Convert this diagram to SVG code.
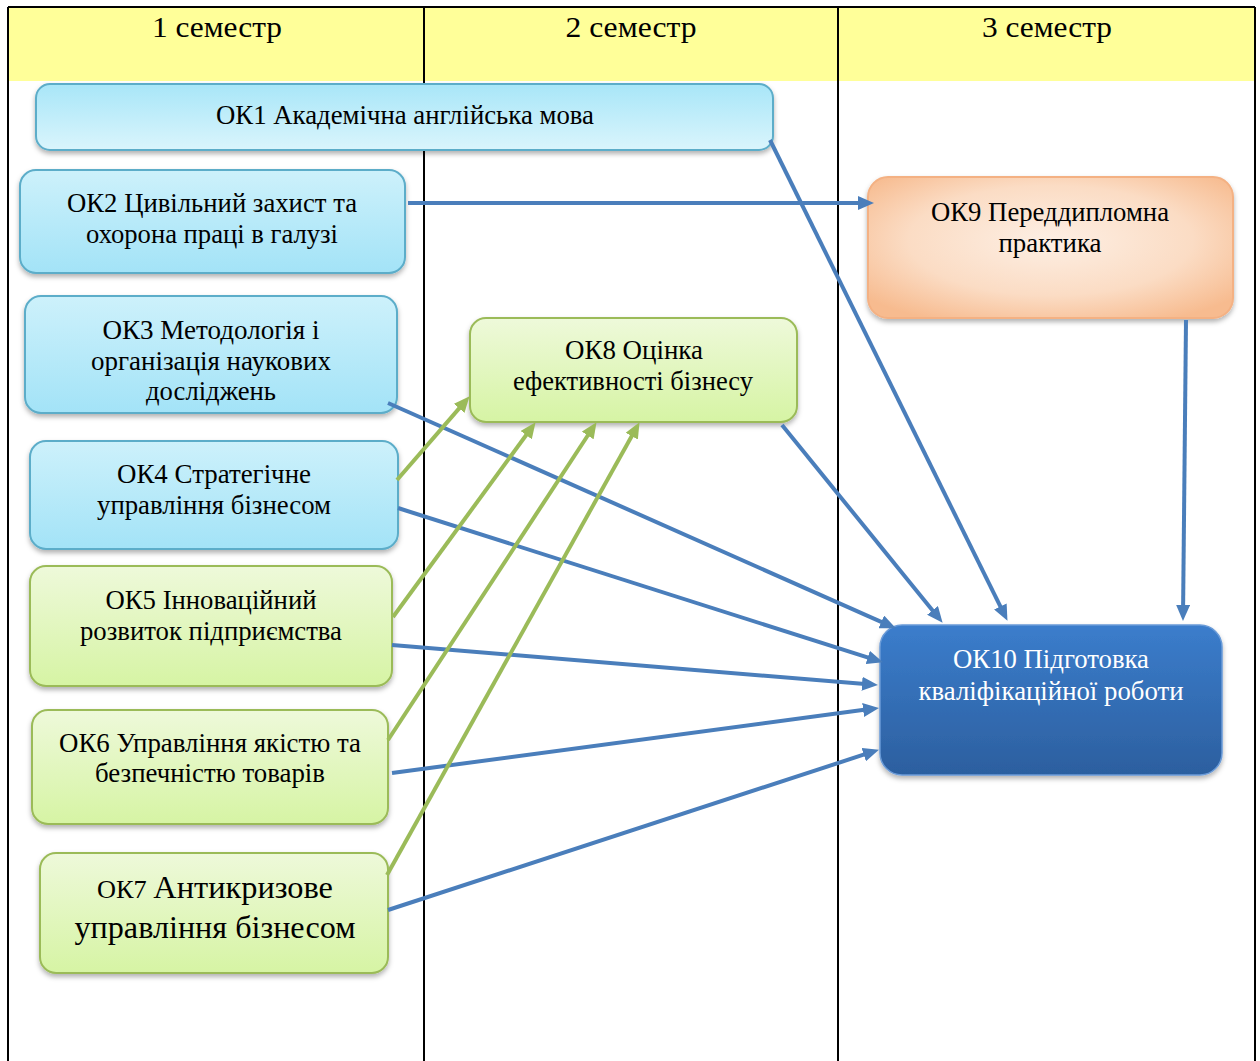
<svg xmlns="http://www.w3.org/2000/svg" width="1260" height="1061" viewBox="0 0 1260 1061">
<style>
text{font-family:'Liberation Serif','Times New Roman','DejaVu Serif',serif}
.t{font-size:27px;fill:#000;text-anchor:middle}
.h{font-size:30px}
.w{fill:#fff}
.blue{stroke:#5cadc9;stroke-width:2}
.green{stroke:#9bbb59;stroke-width:2}
.cb{stroke:#4a7ebb;stroke-width:4;fill:none;marker-end:url(#ab)}
.cg{stroke:#9bbb59;stroke-width:4;fill:none;marker-end:url(#ag)}
.grid{stroke:#000;stroke-width:2;fill:none}
</style>
<defs>
<linearGradient id="gb" x1="0" y1="0" x2="0" y2="1"><stop offset="0" stop-color="#cdf1fb"/><stop offset="1" stop-color="#a3e3f7"/></linearGradient>
<linearGradient id="gb1" x1="0" y1="0" x2="0" y2="1"><stop offset="0" stop-color="#a8e6f8"/><stop offset="1" stop-color="#daf5fc"/></linearGradient>
<linearGradient id="gg" x1="0" y1="0" x2="0" y2="1"><stop offset="0" stop-color="#eef9da"/><stop offset="1" stop-color="#d6f4a4"/></linearGradient>
<radialGradient id="go" cx="0.5" cy="0.45" r="0.65"><stop offset="0" stop-color="#fdefe4"/><stop offset="0.6" stop-color="#fbdcc4"/><stop offset="1" stop-color="#f7bb8f"/></radialGradient>
<linearGradient id="gd" x1="0" y1="0" x2="0" y2="1"><stop offset="0" stop-color="#3b7dcc"/><stop offset="1" stop-color="#2c5f9f"/></linearGradient>
<filter id="sh" x="-5%" y="-10%" width="110%" height="130%"><feDropShadow dx="0" dy="3" stdDeviation="2.5" flood-color="#000" flood-opacity="0.3"/></filter>
<marker id="ab" viewBox="0 0 16 14" markerWidth="16" markerHeight="14" refX="3" refY="7" orient="auto" markerUnits="userSpaceOnUse"><path d="M0,0 L16,7 L0,14 z" fill="#4a7ebb"/></marker>
<marker id="ag" viewBox="0 0 16 14" markerWidth="16" markerHeight="14" refX="3" refY="7" orient="auto" markerUnits="userSpaceOnUse"><path d="M0,0 L16,7 L0,14 z" fill="#9bbb59"/></marker>
</defs>
<rect width="1260" height="1061" fill="#fff"/>
<g id="table">
<rect x="8" y="7" width="1247" height="74" fill="#ffff99"/>
<path class="grid" d="M8,7 H1255 M8,7 V1061 M1255,7 V1061 M424,7 V1061 M838,7 V1061"/>
<text class="t h" x="217" y="37" textLength="130" lengthAdjust="spacingAndGlyphs">1 семестр</text>
<text class="t h" x="631" y="37" textLength="131" lengthAdjust="spacingAndGlyphs">2 семестр</text>
<text class="t h" x="1047" y="37" textLength="130" lengthAdjust="spacingAndGlyphs">3 семестр</text>
</g>
<g id="ok1"><rect x="36" y="84" width="737" height="66" rx="14" fill="url(#gb1)" class="blue" filter="url(#sh)"/><text class="t" x="405" y="124" textLength="378" lengthAdjust="spacingAndGlyphs">ОК1 Академічна англійська мова</text></g>
<g id="ok2"><rect x="20" y="170" width="385" height="103" rx="16" fill="url(#gb)" class="blue" filter="url(#sh)"/><text class="t" x="212" y="212" textLength="290" lengthAdjust="spacingAndGlyphs">ОК2 Цивільний захист та</text><text class="t" x="212" y="243" textLength="252" lengthAdjust="spacingAndGlyphs">охорона праці в галузі</text></g>
<g id="ok3"><rect x="25" y="296" width="372" height="117" rx="16" fill="url(#gb)" class="blue" filter="url(#sh)"/><text class="t" x="211" y="339" textLength="217" lengthAdjust="spacingAndGlyphs">ОК3 Методологія і</text><text class="t" x="211" y="370" textLength="240" lengthAdjust="spacingAndGlyphs">організація наукових</text><text class="t" x="211" y="400" textLength="130" lengthAdjust="spacingAndGlyphs">досліджень</text></g>
<g id="ok4"><rect x="30" y="441" width="368" height="108" rx="16" fill="url(#gb)" class="blue" filter="url(#sh)"/><text class="t" x="214" y="483" textLength="194" lengthAdjust="spacingAndGlyphs">ОК4 Стратегічне</text><text class="t" x="214" y="514" textLength="234" lengthAdjust="spacingAndGlyphs">управління бізнесом</text></g>
<g id="ok5"><rect x="30" y="566" width="362" height="120" rx="16" fill="url(#gg)" class="green" filter="url(#sh)"/><text class="t" x="211" y="609" textLength="211" lengthAdjust="spacingAndGlyphs">ОК5 Інноваційний</text><text class="t" x="211" y="640" textLength="262" lengthAdjust="spacingAndGlyphs">розвиток підприємства</text></g>
<g id="ok6"><rect x="32" y="710" width="356" height="114" rx="16" fill="url(#gg)" class="green" filter="url(#sh)"/><text class="t" x="210" y="752" textLength="302" lengthAdjust="spacingAndGlyphs">ОК6 Управління якістю та</text><text class="t" x="210" y="782" textLength="230" lengthAdjust="spacingAndGlyphs">безпечністю товарів</text></g>
<g id="ok7"><rect x="40" y="853" width="348" height="120" rx="16" fill="url(#gg)" class="green" filter="url(#sh)"/><text class="t" x="215" y="898" style="font-size:32px" textLength="236" lengthAdjust="spacingAndGlyphs"><tspan style="font-size:26px">ОК7 </tspan>Антикризове</text><text class="t" x="215" y="938" style="font-size:32px" textLength="281" lengthAdjust="spacingAndGlyphs">управління бізнесом</text></g>
<g id="ok8"><rect x="470" y="318" width="327" height="104" rx="16" fill="url(#gg)" class="green" filter="url(#sh)"/><text class="t" x="634" y="359" textLength="138" lengthAdjust="spacingAndGlyphs">ОК8 Оцінка</text><text class="t" x="633" y="390" textLength="240" lengthAdjust="spacingAndGlyphs">ефективності бізнесу</text></g>
<g id="ok9"><rect x="868" y="177" width="365" height="141" rx="20" fill="url(#go)" stroke="#f4b183" stroke-width="2" filter="url(#sh)"/><text class="t" x="1050" y="221" textLength="238" lengthAdjust="spacingAndGlyphs">ОК9 Переддипломна</text><text class="t" x="1050" y="252" textLength="103" lengthAdjust="spacingAndGlyphs">практика</text></g>
<g id="ok10"><rect x="880" y="625" width="342" height="150" rx="22" fill="url(#gd)" stroke="#6a9bd8" stroke-width="1.5" filter="url(#sh)"/><text class="t w" x="1051" y="668" textLength="196" lengthAdjust="spacingAndGlyphs">ОК10 Підготовка</text><text class="t w" x="1051" y="700" textLength="265" lengthAdjust="spacingAndGlyphs">кваліфікаційної роботи</text></g>
<g id="connectors">
<line class="cb" x1="770" y1="140" x2="1001.7" y2="609.2"/>
<line class="cb" x1="408" y1="203" x2="861" y2="203"/>
<line class="cb" x1="388" y1="403" x2="884" y2="623.1"/>
<line class="cb" x1="782" y1="425" x2="934.4" y2="612.7"/>
<line class="cb" x1="1186" y1="320" x2="1183.1" y2="608"/>
<line class="cb" x1="398" y1="508" x2="870.6" y2="658.4"/>
<line class="cb" x1="392" y1="645" x2="865" y2="684"/>
<line class="cb" x1="392" y1="773" x2="866.1" y2="709.6"/>
<line class="cb" x1="388" y1="910" x2="866.6" y2="753.7"/>
<line class="cg" x1="397" y1="480" x2="461.1" y2="406.1"/>
<line class="cg" x1="393" y1="617" x2="527.9" y2="432.7"/>
<line class="cg" x1="388" y1="740" x2="589.4" y2="433"/>
<line class="cg" x1="387" y1="875" x2="633.2" y2="433.5"/>
</g>
</svg>
